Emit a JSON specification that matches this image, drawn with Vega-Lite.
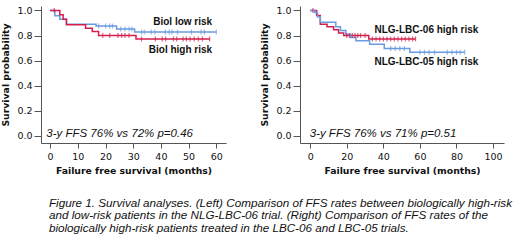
{
  "$schema": "https://vega.github.io/schema/vega-lite/v6.json",
  "padding": {"left": 1, "top": 5, "right": 5, "bottom": 5},
  "background": "white",
  "config": {
    "view": {"stroke": null},
    "font": "Liberation Sans",
    "axis": {
      "grid": false,
      "domainColor": "#555",
      "tickColor": "#555",
      "labelColor": "#111",
      "labelFontSize": 9.5,
      "labelFont": "DejaVu Sans",
      "labelOverlap": false,
      "titleFont": "DejaVu Sans",
      "titleFontSize": 9.3,
      "titleFontWeight": "bold",
      "titleColor": "#111"
    },
    "axisX": {"tickSize": 5, "labelPadding": 3, "titlePadding": 6},
    "axisY": {"tickSize": 7, "labelPadding": 2, "titlePadding": 6}
  },
  "datasets": {
    "curves": [
      {"p": "L", "g": "Biol low risk", "t": 0, "s": 1.0},
      {"p": "L", "g": "Biol low risk", "t": 1.7, "s": 0.957},
      {"p": "L", "g": "Biol low risk", "t": 3.5, "s": 0.93},
      {"p": "L", "g": "Biol low risk", "t": 5.9, "s": 0.89},
      {"p": "L", "g": "Biol low risk", "t": 16.6, "s": 0.875},
      {"p": "L", "g": "Biol low risk", "t": 24, "s": 0.851},
      {"p": "L", "g": "Biol low risk", "t": 30.5, "s": 0.827},
      {"p": "L", "g": "Biol low risk", "t": 60, "s": 0.827},
      {"p": "L", "g": "Biol high risk", "t": 0, "s": 1.0},
      {"p": "L", "g": "Biol high risk", "t": 3.5, "s": 0.965},
      {"p": "L", "g": "Biol high risk", "t": 4.7, "s": 0.93},
      {"p": "L", "g": "Biol high risk", "t": 5.9, "s": 0.886},
      {"p": "L", "g": "Biol high risk", "t": 12.8, "s": 0.858},
      {"p": "L", "g": "Biol high risk", "t": 15.2, "s": 0.832},
      {"p": "L", "g": "Biol high risk", "t": 17.5, "s": 0.8},
      {"p": "L", "g": "Biol high risk", "t": 31, "s": 0.773},
      {"p": "L", "g": "Biol high risk", "t": 57.6, "s": 0.773},
      {"p": "R", "g": "NLG-LBC-06 high risk", "t": 0, "s": 1.0},
      {"p": "R", "g": "NLG-LBC-06 high risk", "t": 3.5, "s": 0.96},
      {"p": "R", "g": "NLG-LBC-06 high risk", "t": 5.5, "s": 0.89},
      {"p": "R", "g": "NLG-LBC-06 high risk", "t": 9.2, "s": 0.87},
      {"p": "R", "g": "NLG-LBC-06 high risk", "t": 12.8, "s": 0.845},
      {"p": "R", "g": "NLG-LBC-06 high risk", "t": 15.5, "s": 0.82},
      {"p": "R", "g": "NLG-LBC-06 high risk", "t": 18.3, "s": 0.8},
      {"p": "R", "g": "NLG-LBC-06 high risk", "t": 32, "s": 0.773},
      {"p": "R", "g": "NLG-LBC-06 high risk", "t": 57.6, "s": 0.773},
      {"p": "R", "g": "NLG-LBC-05 high risk", "t": 0, "s": 1.0},
      {"p": "R", "g": "NLG-LBC-05 high risk", "t": 2.5, "s": 0.984},
      {"p": "R", "g": "NLG-LBC-05 high risk", "t": 4, "s": 0.95},
      {"p": "R", "g": "NLG-LBC-05 high risk", "t": 5.5, "s": 0.905},
      {"p": "R", "g": "NLG-LBC-05 high risk", "t": 14, "s": 0.87},
      {"p": "R", "g": "NLG-LBC-05 high risk", "t": 16.5, "s": 0.84},
      {"p": "R", "g": "NLG-LBC-05 high risk", "t": 19.5, "s": 0.81},
      {"p": "R", "g": "NLG-LBC-05 high risk", "t": 22, "s": 0.785},
      {"p": "R", "g": "NLG-LBC-05 high risk", "t": 25, "s": 0.758},
      {"p": "R", "g": "NLG-LBC-05 high risk", "t": 32.5, "s": 0.73},
      {"p": "R", "g": "NLG-LBC-05 high risk", "t": 40.5, "s": 0.697},
      {"p": "R", "g": "NLG-LBC-05 high risk", "t": 54.5, "s": 0.666},
      {"p": "R", "g": "NLG-LBC-05 high risk", "t": 84.5, "s": 0.666}
    ],
    "censors": [
      {"p": "L", "g": "Biol low risk", "t": 17.5, "s": 0.875},
      {"p": "L", "g": "Biol low risk", "t": 20, "s": 0.875},
      {"p": "L", "g": "Biol low risk", "t": 21.5, "s": 0.875},
      {"p": "L", "g": "Biol low risk", "t": 22.5, "s": 0.875},
      {"p": "L", "g": "Biol low risk", "t": 25.5, "s": 0.851},
      {"p": "L", "g": "Biol low risk", "t": 27, "s": 0.851},
      {"p": "L", "g": "Biol low risk", "t": 28.5, "s": 0.851},
      {"p": "L", "g": "Biol low risk", "t": 29.5, "s": 0.851},
      {"p": "L", "g": "Biol low risk", "t": 33, "s": 0.827},
      {"p": "L", "g": "Biol low risk", "t": 34, "s": 0.827},
      {"p": "L", "g": "Biol low risk", "t": 36.5, "s": 0.827},
      {"p": "L", "g": "Biol low risk", "t": 37.8, "s": 0.827},
      {"p": "L", "g": "Biol low risk", "t": 41.6, "s": 0.827},
      {"p": "L", "g": "Biol low risk", "t": 43, "s": 0.827},
      {"p": "L", "g": "Biol low risk", "t": 44, "s": 0.827},
      {"p": "L", "g": "Biol low risk", "t": 46, "s": 0.827},
      {"p": "L", "g": "Biol low risk", "t": 51, "s": 0.827},
      {"p": "L", "g": "Biol low risk", "t": 54.5, "s": 0.827},
      {"p": "L", "g": "Biol low risk", "t": 55.7, "s": 0.827},
      {"p": "L", "g": "Biol low risk", "t": 60, "s": 0.827},
      {"p": "L", "g": "Biol high risk", "t": 1.5, "s": 1.0},
      {"p": "L", "g": "Biol high risk", "t": 19, "s": 0.8},
      {"p": "L", "g": "Biol high risk", "t": 21.5, "s": 0.8},
      {"p": "L", "g": "Biol high risk", "t": 24.5, "s": 0.8},
      {"p": "L", "g": "Biol high risk", "t": 25.8, "s": 0.8},
      {"p": "L", "g": "Biol high risk", "t": 27, "s": 0.8},
      {"p": "L", "g": "Biol high risk", "t": 28.5, "s": 0.8},
      {"p": "L", "g": "Biol high risk", "t": 33, "s": 0.773},
      {"p": "L", "g": "Biol high risk", "t": 38, "s": 0.773},
      {"p": "L", "g": "Biol high risk", "t": 40.5, "s": 0.773},
      {"p": "L", "g": "Biol high risk", "t": 41.7, "s": 0.773},
      {"p": "L", "g": "Biol high risk", "t": 44.5, "s": 0.773},
      {"p": "L", "g": "Biol high risk", "t": 45.7, "s": 0.773},
      {"p": "L", "g": "Biol high risk", "t": 48, "s": 0.773},
      {"p": "L", "g": "Biol high risk", "t": 49.2, "s": 0.773},
      {"p": "L", "g": "Biol high risk", "t": 50.5, "s": 0.773},
      {"p": "L", "g": "Biol high risk", "t": 52, "s": 0.773},
      {"p": "L", "g": "Biol high risk", "t": 53.5, "s": 0.773},
      {"p": "L", "g": "Biol high risk", "t": 55, "s": 0.773},
      {"p": "L", "g": "Biol high risk", "t": 57.6, "s": 0.773},
      {"p": "R", "g": "NLG-LBC-06 high risk", "t": 1.5, "s": 1.0},
      {"p": "R", "g": "NLG-LBC-06 high risk", "t": 20, "s": 0.8},
      {"p": "R", "g": "NLG-LBC-06 high risk", "t": 21.5, "s": 0.8},
      {"p": "R", "g": "NLG-LBC-06 high risk", "t": 23, "s": 0.8},
      {"p": "R", "g": "NLG-LBC-06 high risk", "t": 24.5, "s": 0.8},
      {"p": "R", "g": "NLG-LBC-06 high risk", "t": 26, "s": 0.8},
      {"p": "R", "g": "NLG-LBC-06 high risk", "t": 27.5, "s": 0.8},
      {"p": "R", "g": "NLG-LBC-06 high risk", "t": 30, "s": 0.8},
      {"p": "R", "g": "NLG-LBC-06 high risk", "t": 34, "s": 0.773},
      {"p": "R", "g": "NLG-LBC-06 high risk", "t": 36, "s": 0.773},
      {"p": "R", "g": "NLG-LBC-06 high risk", "t": 38, "s": 0.773},
      {"p": "R", "g": "NLG-LBC-06 high risk", "t": 40, "s": 0.773},
      {"p": "R", "g": "NLG-LBC-06 high risk", "t": 42, "s": 0.773},
      {"p": "R", "g": "NLG-LBC-06 high risk", "t": 44, "s": 0.773},
      {"p": "R", "g": "NLG-LBC-06 high risk", "t": 46, "s": 0.773},
      {"p": "R", "g": "NLG-LBC-06 high risk", "t": 48, "s": 0.773},
      {"p": "R", "g": "NLG-LBC-06 high risk", "t": 50, "s": 0.773},
      {"p": "R", "g": "NLG-LBC-06 high risk", "t": 52, "s": 0.773},
      {"p": "R", "g": "NLG-LBC-06 high risk", "t": 54, "s": 0.773},
      {"p": "R", "g": "NLG-LBC-06 high risk", "t": 56, "s": 0.773},
      {"p": "R", "g": "NLG-LBC-06 high risk", "t": 57.6, "s": 0.773},
      {"p": "R", "g": "NLG-LBC-05 high risk", "t": 44, "s": 0.697},
      {"p": "R", "g": "NLG-LBC-05 high risk", "t": 46.5, "s": 0.697},
      {"p": "R", "g": "NLG-LBC-05 high risk", "t": 49, "s": 0.697},
      {"p": "R", "g": "NLG-LBC-05 high risk", "t": 51.5, "s": 0.697},
      {"p": "R", "g": "NLG-LBC-05 high risk", "t": 60, "s": 0.666},
      {"p": "R", "g": "NLG-LBC-05 high risk", "t": 62.5, "s": 0.666},
      {"p": "R", "g": "NLG-LBC-05 high risk", "t": 65, "s": 0.666},
      {"p": "R", "g": "NLG-LBC-05 high risk", "t": 68, "s": 0.666},
      {"p": "R", "g": "NLG-LBC-05 high risk", "t": 75, "s": 0.666},
      {"p": "R", "g": "NLG-LBC-05 high risk", "t": 77.5, "s": 0.666},
      {"p": "R", "g": "NLG-LBC-05 high risk", "t": 80, "s": 0.666},
      {"p": "R", "g": "NLG-LBC-05 high risk", "t": 82, "s": 0.666},
      {"p": "R", "g": "NLG-LBC-05 high risk", "t": 84.5, "s": 0.666}
    ],
    "labels": [
      {"p": "L", "kind": "group", "text": "Biol low risk", "t": 58.5, "s": 0.907},
      {"p": "L", "kind": "group", "text": "Biol high risk", "t": 58.5, "s": 0.685},
      {"p": "L", "kind": "stat", "text": "3-y FFS 76% vs 72% p=0.46", "t": -1.4, "s": 0.018},
      {"p": "R", "kind": "group", "text": "NLG-LBC-06 high risk", "t": 92, "s": 0.844},
      {"p": "R", "kind": "group", "text": "NLG-LBC-05 high risk", "t": 92, "s": 0.586},
      {"p": "R", "kind": "stat", "text": "3-y FFS 76% vs 71% p=0.51", "t": -0.3, "s": 0.014}
    ]
  },
  "title": {
    "text": [
      "Figure 1. Survival analyses. (Left) Comparison of FFS rates between biologically high-risk",
      "and low-risk patients in the NLG-LBC-06 trial. (Right) Comparison of FFS rates of the",
      "biologically high-risk patients treated in the LBC-06 and LBC-05 trials."
    ],
    "orient": "bottom",
    "anchor": "start",
    "font": "Liberation Sans",
    "fontSize": 11.7,
    "fontStyle": "italic",
    "fontWeight": "normal",
    "color": "#111",
    "lineHeight": 12.7,
    "offset": 22,
    "dx": 47
  },
  "spacing": 34,
  "hconcat": [
    {
      "width": 185,
      "height": 137,
      "encoding": {
        "x": {"field": "t", "type": "quantitative", "scale": {"domain": [-3.3, 63.5], "nice": false, "zero": false},
              "axis": {"values": [0, 10, 20, 30, 40, 50, 60], "title": "Failure free survival (months)"}},
        "y": {"field": "s", "type": "quantitative", "scale": {"domain": [-0.056, 1.035], "nice": false, "zero": false},
              "axis": {"values": [0, 0.2, 0.4, 0.6, 0.8, 1.0], "format": ".1f", "title": "Survival probability"}}
      },
      "layer": [
        {
          "data": {"name": "curves"},
          "transform": [{"filter": "datum.p === 'L'"}],
          "mark": {"type": "line", "interpolate": "step-after", "strokeWidth": 1.5},
          "encoding": {
            "color": {"field": "g", "type": "nominal", "legend": null,
                      "scale": {"domain": ["Biol low risk", "Biol high risk", "NLG-LBC-06 high risk", "NLG-LBC-05 high risk"],
                                "range": ["#6a9ae0", "#d21f4c", "#d21f4c", "#6a9ae0"]}}
          }
        },
        {
          "data": {"name": "censors"},
          "transform": [{"filter": "datum.p === 'L'"}],
          "mark": {"type": "tick", "orient": "vertical", "size": 5, "thickness": 1.2},
          "encoding": {
            "color": {"field": "g", "type": "nominal", "legend": null}
          }
        },
        {
          "data": {"name": "labels"},
          "transform": [{"filter": "datum.p === 'L' && datum.kind === 'group'"}],
          "mark": {"type": "text", "align": "right", "baseline": "middle", "fontWeight": "bold", "fontSize": 10, "color": "#111"},
          "encoding": {"text": {"field": "text"}}
        },
        {
          "data": {"name": "labels"},
          "transform": [{"filter": "datum.p === 'L' && datum.kind === 'stat'"}],
          "mark": {"type": "text", "align": "left", "baseline": "middle", "fontStyle": "italic", "fontSize": 11.5, "color": "#111"},
          "encoding": {"text": {"field": "text"}}
        }
      ]
    },
    {
      "width": 204,
      "height": 137,
      "encoding": {
        "x": {"field": "t", "type": "quantitative", "scale": {"domain": [-5.6, 106], "nice": false, "zero": false},
              "axis": {"values": [0, 20, 40, 60, 80, 100], "title": "Failure free survival (months)"}},
        "y": {"field": "s", "type": "quantitative", "scale": {"domain": [-0.056, 1.035], "nice": false, "zero": false},
              "axis": {"values": [0, 0.2, 0.4, 0.6, 0.8, 1.0], "format": ".1f", "title": "Survival probability"}}
      },
      "layer": [
        {
          "data": {"name": "curves"},
          "transform": [{"filter": "datum.p === 'R'"}],
          "mark": {"type": "line", "interpolate": "step-after", "strokeWidth": 1.5},
          "encoding": {
            "color": {"field": "g", "type": "nominal", "legend": null}
          }
        },
        {
          "data": {"name": "censors"},
          "transform": [{"filter": "datum.p === 'R'"}],
          "mark": {"type": "tick", "orient": "vertical", "size": 5, "thickness": 1.2},
          "encoding": {
            "color": {"field": "g", "type": "nominal", "legend": null}
          }
        },
        {
          "data": {"name": "labels"},
          "transform": [{"filter": "datum.p === 'R' && datum.kind === 'group'"}],
          "mark": {"type": "text", "align": "right", "baseline": "middle", "fontWeight": "bold", "fontSize": 10, "color": "#111"},
          "encoding": {"text": {"field": "text"}}
        },
        {
          "data": {"name": "labels"},
          "transform": [{"filter": "datum.p === 'R' && datum.kind === 'stat'"}],
          "mark": {"type": "text", "align": "left", "baseline": "middle", "fontStyle": "italic", "fontSize": 11.5, "color": "#111"},
          "encoding": {"text": {"field": "text"}}
        }
      ]
    }
  ]
}
